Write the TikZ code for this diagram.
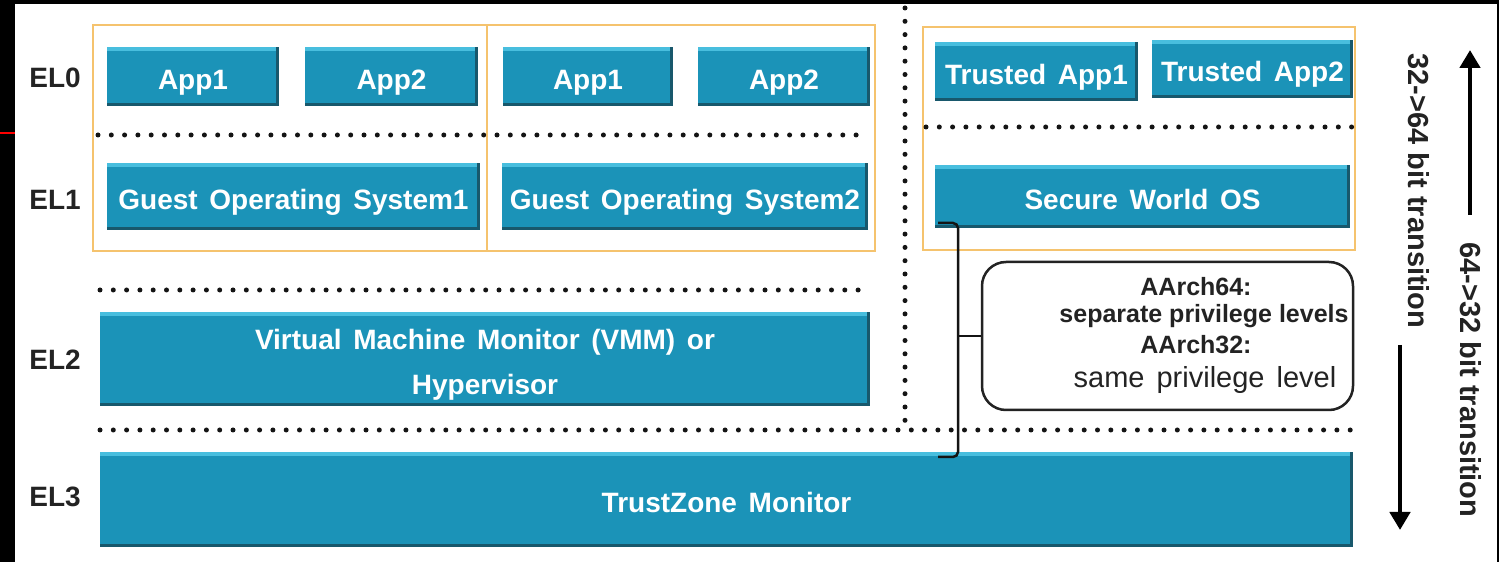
\documentclass[tikz,border=0pt]{standalone}
\usepackage{fontspec}
\setmainfont{Liberation Sans}
\newfontfamily\boxfont{Liberation Sans}[WordSpace=1.5]
\usetikzlibrary{arrows.meta}
\definecolor{boxblue}{RGB}{27,147,184}
\definecolor{bluelight}{RGB}{72,190,222}
\definecolor{bluedark}{RGB}{24,88,108}
\definecolor{orangeline}{RGB}{245,195,110}
\definecolor{dotcol}{RGB}{20,20,20}
\definecolor{labcol}{RGB}{35,35,35}
\begin{document}
\begin{tikzpicture}[x=1pt,y=1pt,
  bluebox/.style={draw=none, fill=boxblue, inner sep=0pt, text=white,
    font=\boxfont\fontsize{28}{38}\selectfont\bfseries, text height=26pt, text depth=0pt,
    path picture={
      \fill[bluelight] (path picture bounding box.north west) rectangle ([yshift=-4pt]path picture bounding box.north east);
      \fill[bluedark] (path picture bounding box.south west) rectangle ([yshift=3pt]path picture bounding box.south east);
      \fill[bluedark] ([xshift=-3pt]path picture bounding box.south east) rectangle (path picture bounding box.north east);
    }},
  boxtext/.style={text=white, inner sep=0pt, align=center,
    font=\boxfont\fontsize{28}{45}\selectfont\bfseries},
  orangebox/.style={draw=orangeline, line width=2pt, inner sep=0pt},
  dotline/.style={dotcol, line width=5pt, line cap=round, dash pattern=on 0pt off 13.3pt},
  ellabel/.style={text=labcol, font=\fontsize{28}{32}\selectfont\bfseries, inner sep=0pt},
  notebox/.style={draw=labcol, line width=2.5pt, rounded corners=24pt, inner sep=0pt},
  notebold/.style={text=labcol, font=\fontsize{25}{28}\selectfont\bfseries, inner sep=0pt},
  notereg/.style={text=labcol, font=\boxfont\fontsize{29}{34}\selectfont, inner sep=0pt},
  sidetext/.style={text=labcol, font=\fontsize{29}{32}\selectfont\bfseries, rotate=-90, inner sep=0pt},
  bigarrow/.style={black, line width=4.5pt, -{Triangle[length=18pt,width=20pt]}},
  bracketline/.style={dotcol, line width=2.5pt, rounded corners=5pt}
]
\useasboundingbox (0,0) rectangle (1499,562);
\fill[white] (0,0) rectangle (1499,562);
% frame remnants
\fill[black] (0,0) rectangle (15,562);
\fill[black] (0,558) rectangle (1499,562);
\fill[black] (1497,0) rectangle (1499,562);
\draw[red, line width=2pt] (0,429) -- (15,429);

% orange containers
\node[orangebox, minimum width=394pt, minimum height=226pt] (vm1) at (290,424) {};
\node[orangebox, minimum width=388pt, minimum height=226pt] (vm2) at (681,424) {};
\node[orangebox, minimum width=432pt, minimum height=223pt] (sec) at (1139,423.5) {};

% dotted separators
\draw[dotline] (98,427) -- (866,427);
\draw[dotline] (926,435) -- (1355,435);
\draw[dotline] (100,272) -- (862,272);
\draw[dotline] (100,132) -- (1356,132);
\draw[dotline] (905,554) -- (905,140);

% blue boxes
\node[bluebox, minimum width=172pt, minimum height=59pt] (app1a) at (193,485.5) {App1};
\node[bluebox, minimum width=173pt, minimum height=59pt] (app2a) at (391.5,485.5) {App2};
\node[bluebox, minimum width=373pt, minimum height=67pt] (gos1) at (293.5,365.5) {Guest Operating System1};
\node[bluebox, minimum width=170pt, minimum height=59pt] (app1b) at (588,485.5) {App1};
\node[bluebox, minimum width=172pt, minimum height=59pt] (app2b) at (784,485.5) {App2};
\node[bluebox, minimum width=366pt, minimum height=67pt] (gos2) at (685,365.5) {Guest Operating System2};
\node[bluebox, minimum width=203pt, minimum height=59pt] (ta1) at (1036.5,490.5) {Trusted App1};
\node[bluebox, minimum width=201pt, minimum height=58pt] (ta2) at (1252.5,493) {Trusted App2};
\node[bluebox, minimum width=415pt, minimum height=63pt] (swos) at (1142.5,365.5) {Secure World OS};
\node[bluebox, minimum width=770pt, minimum height=94pt] (vmm) at (485,203) {};
\node[boxtext] (vmmtext) at ([yshift=-6pt]vmm.center) {Virtual Machine Monitor (VMM) or\\Hypervisor};
\node[bluebox, minimum width=1253pt, minimum height=95pt] (tz) at (726.5,62.5) {TrustZone Monitor};

% EL labels
\node[ellabel] (el0) at (55,484) {EL0};
\node[ellabel] (el1) at (55,362) {EL1};
\node[ellabel] (el2) at (55,202) {EL2};
\node[ellabel] (el3) at (55,65) {EL3};

% note box
\node[notebox, minimum width=371pt, minimum height=148pt] (note) at (1167.5,226) {};
\node[notebold] (n1) at (1196,275) {AArch64:};
\node[notebold] (n2) at (1204,246) {separate privilege levels};
\node[notebold] (n3) at (1196,217) {AArch32:};
\node[notereg] (n4) at (1205,182) {same privilege level};

% bracket
\coordinate (bt) at (938,339);
\coordinate (bb) at (938,105);
\coordinate (bm) at (958,226);
\draw[bracketline] (bt) -- (958,339) -- (958,105) -- (bb);
\draw[dotcol, line width=2.5pt] (bm) -- (note.west);

% transition arrows and texts
\coordinate (upS) at (1470,347);
\coordinate (upE) at (1470,512);
\coordinate (dnS) at (1400,217);
\coordinate (dnE) at (1400,32);
\draw[bigarrow] (upS) -- (upE);
\draw[bigarrow] (dnS) -- (dnE);
\node[sidetext] (t1) at (1419,371) {32->64 bit transition};
\node[sidetext] (t2) at (1471,182) {64->32 bit transition};
\end{tikzpicture}
\end{document}
